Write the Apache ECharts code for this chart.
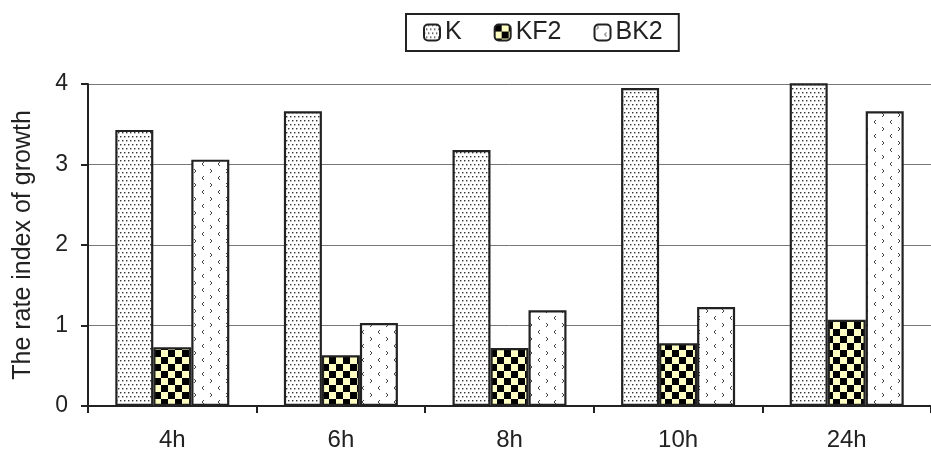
<!DOCTYPE html>
<html><head><meta charset="utf-8">
<script src="https://cdn.jsdelivr.net/npm/echarts@6/dist/echarts.min.js"></script>
<style>html,body{margin:0;padding:0;background:#fff}#c{width:931px;height:453px}</style>
</head><body><div id="c"></div>
<script>
const categories = ['4h','6h','8h','10h','24h'];
const seriesNames = ['K','KF2','BK2'];
const valuesK   = [3.43, 3.66, 3.18, 3.95, 4.01];
const valuesKF2 = [0.73, 0.63, 0.72, 0.78, 1.07];
const valuesBK2 = [3.06, 1.03, 1.19, 1.23, 3.66];
const yTicks = [0,1,2,3,4];

function tile(w,h,draw){const c=document.createElement('canvas');c.width=w;c.height=h;const g=c.getContext('2d');draw(g);return c;}
const patK = tile(8,8,g=>{g.fillStyle='#fff';g.fillRect(0,0,8,8);g.fillStyle='#333';
  [[0,0],[4,0],[2,4],[6,4]].forEach(p=>g.fillRect(p[0],p[1],1.4,1.4));});
const patKF2 = tile(14,14,g=>{g.fillStyle='#ffffc4';g.fillRect(0,0,14,14);g.fillStyle='#000';
  g.fillRect(0,0,7,7);g.fillRect(7,7,7,7);});
const patBK2 = tile(16,14,g=>{g.fillStyle='#fff';g.fillRect(0,0,16,14);g.strokeStyle='#444';g.lineWidth=1;
  g.beginPath();g.moveTo(2,1);g.lineTo(4,3);g.lineTo(2,5);g.stroke();
  g.beginPath();g.moveTo(12,8);g.lineTo(10,10);g.lineTo(12,12);g.stroke();});

const pats=[patK,patKF2,patBK2];
const vals=[valuesK,valuesKF2,valuesBK2];
const chart = echarts.init(document.getElementById('c'));
chart.setOption({
  animation:false,
  backgroundColor:'#fff',
  textStyle:{fontFamily:'Liberation Sans, Arial, sans-serif'},
  legend:{
    top:14, left:406,
    data:seriesNames, itemWidth:16, itemHeight:16, itemGap:32,
    borderColor:'#222', borderWidth:2, padding:[6,16,6,17],
    textStyle:{fontSize:25,color:'#222'}
  },
  grid:{left:88, top:84, width:851, height:322},
  xAxis:{type:'category',data:categories,
    axisLine:{lineStyle:{color:'#222',width:2}},
    axisTick:{show:true,length:7,lineStyle:{color:'#222',width:2}},
    axisLabel:{fontSize:24,color:'#222',margin:22}},
  yAxis:{type:'value',min:0,max:4,interval:1,
    name:'The rate index of growth',nameLocation:'middle',nameGap:52,
    nameTextStyle:{fontSize:25,color:'#222'},
    axisLine:{show:true,lineStyle:{color:'#222',width:2}},
    axisTick:{show:true,length:7,lineStyle:{color:'#222',width:2}},
    axisLabel:{fontSize:23,color:'#222',margin:20,formatter:v=>yTicks.includes(v)?String(v):''},
    splitLine:{lineStyle:{color:'#777',width:1}}},
  series:seriesNames.map((n,i)=>({
    name:n,type:'bar',data:vals[i],barWidth:38,barGap:'0%',
    itemStyle:{color:{image:pats[i],repeat:'repeat'},borderColor:'#222',borderWidth:2.2}
  }))
});
</script></body></html>
